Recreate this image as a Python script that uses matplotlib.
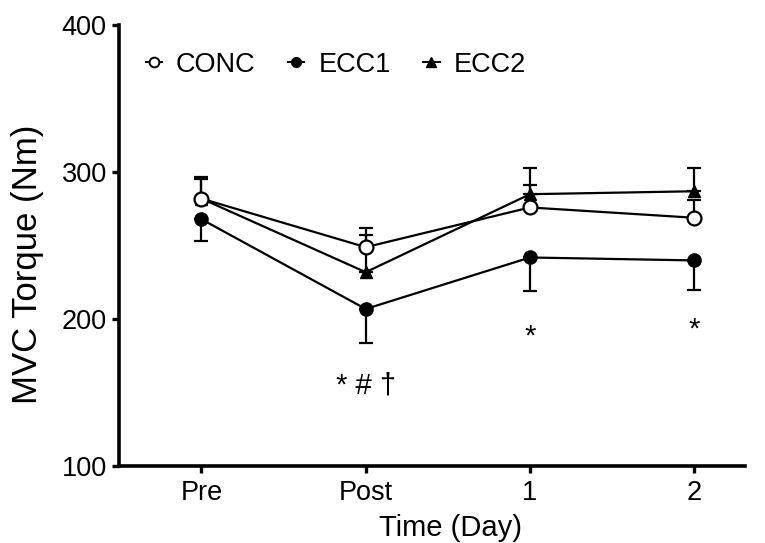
import matplotlib
matplotlib.use("Agg")
import matplotlib.pyplot as plt
from matplotlib.lines import Line2D

plt.rcParams['font.family'] = ['Liberation Sans', 'DejaVu Sans']

categories = ["Pre", "Post", "1", "2"]
conc = [282, 249, 276, 269]
conc_err = [15, 13, 15, 12]
ecc1 = [268, 207, 242, 240]
ecc1_err = [15, 23, 23, 20]
ecc2 = [282, 232, 285, 287]
ecc2_err = [13, 25, 18, 16]
sig_labels = ["", "* # \u2020", "*", "*"]
sig_y = [None, 155, 188, 193]

fig = plt.figure(figsize=(7.65, 5.43), dpi=100)
ax = fig.add_axes([0.156, 0.141, 0.818, 0.813])
x = list(range(len(categories)))

common = dict(color='black', linewidth=1.6, capsize=4.7, capthick=1.6, elinewidth=1.6)
ax.errorbar(x, ecc1, yerr=[ecc1_err, [0]*4], marker='o', markersize=9.5,
            markerfacecolor='black', markeredgecolor='black', zorder=3, **common)
ax.errorbar(x, ecc2, yerr=[[0]*4, ecc2_err], marker='^', markersize=9,
            markerfacecolor='black', markeredgecolor='black', zorder=3, **common)
ax.errorbar(x, conc, yerr=[[0]*4, conc_err], marker='o', markersize=10,
            markerfacecolor='white', markeredgecolor='black', markeredgewidth=1.6,
            zorder=4, **common)

for xi, lab, yy in zip(x, sig_labels, sig_y):
    if lab:
        ax.text(xi, yy, lab, ha='center', va='center', fontsize=21)

ax.set_xlim(-0.5, 3.31)
ax.set_ylim(100, 400)
ax.set_yticks([100, 200, 300, 400])
ax.set_xticks(x)
ax.set_xticklabels(categories)
ax.tick_params(labelsize=19.5, width=2.4, length=5, direction='out', pad=4)
ax.tick_params(axis='x', pad=5)
for s in ['top', 'right']:
    ax.spines[s].set_visible(False)
for s in ['left', 'bottom']:
    ax.spines[s].set_linewidth(2.6)
ax.set_ylabel('MVC Torque (Nm)', fontsize=25)
ax.set_xlabel('Time (Day)', fontsize=21)
ax.yaxis.set_label_coords(-0.12, 0.457)
ax.xaxis.set_label_coords(0.53, -0.108)

handles = [
    Line2D([], [], color='black', lw=1.4, marker='o', markersize=7,
           markerfacecolor='white', markeredgecolor='black', markeredgewidth=1.4),
    Line2D([], [], color='black', lw=1.4, marker='o', markersize=7,
           markerfacecolor='black', markeredgecolor='black'),
    Line2D([], [], color='black', lw=1.4, marker='^', markersize=7,
           markerfacecolor='black', markeredgecolor='black'),
]
ax.legend(handles, ['CONC', 'ECC1', 'ECC2'], loc='center left',
          bbox_to_anchor=(0.042, 0.91), ncol=3, frameon=False, fontsize=19.5,
          handlelength=0.6, handletextpad=0.52, columnspacing=1.2,
          borderpad=0, borderaxespad=0)

fig.savefig('out.png', dpi=100)
